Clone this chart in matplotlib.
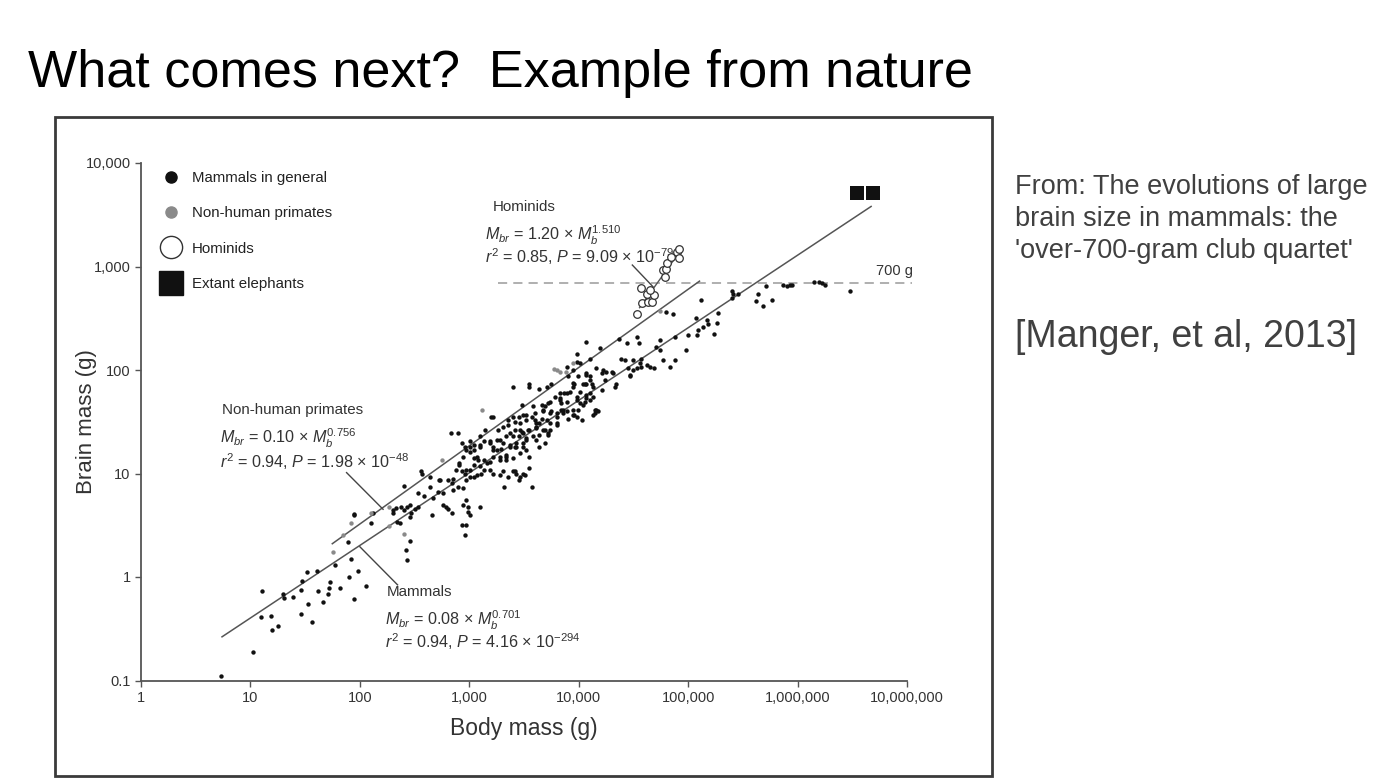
import numpy as np
import matplotlib
matplotlib.use("Agg")
import matplotlib.pyplot as plt
from matplotlib.lines import Line2D
from matplotlib.patches import Rectangle
from matplotlib.ticker import FuncFormatter, FixedLocator, NullLocator

plt.rcParams["font.family"] = ["Liberation Sans", "DejaVu Sans"]
plt.rcParams["mathtext.fontset"] = "custom"
plt.rcParams["mathtext.rm"] = "Liberation Sans"
plt.rcParams["mathtext.it"] = "Liberation Sans:italic"

# values, stored as log10(grams)
mammal_log_body = [
    0.73, 1.02, 1.10, 1.19, 1.20, 1.25, 1.11, 1.30, 1.31, 1.39, 1.46, 1.47, 1.46, 1.52, 1.53,
    1.56, 1.61, 1.62, 1.66, 1.71, 1.72, 1.73, 1.77, 1.82, 1.90, 1.92, 1.98, 1.95, 2.06, 1.89,
    1.95, 2.30, 2.30, 2.34, 2.12, 2.10, 2.43, 2.42, 2.46, 2.33, 2.40, 2.47, 2.50, 2.46, 2.57,
    2.64, 2.66, 2.73, 2.79, 2.84, 2.83, 2.90, 2.93, 2.96, 2.97, 3.01, 2.94, 2.99, 3.10, 2.81,
    2.88, 2.91, 2.97, 2.97, 2.85, 2.76, 2.67, 2.59, 2.71, 2.53, 2.93, 2.97, 3.04, 3.10, 3.22,
    3.28, 3.32, 3.43, 3.45, 3.51, 3.57, 3.55, 3.28, 3.19, 3.16, 3.08, 3.22, 3.34, 3.42, 3.37,
    3.46, 3.52, 3.42, 3.49, 3.58, 3.67, 3.74, 3.61, 3.80, 3.83, 3.89, 3.95, 4.01, 4.03, 4.10,
    4.15, 4.07, 3.40, 3.55, 3.71, 4.07, 3.98, 4.19, 4.01, 4.07, 4.22, 4.24, 4.10, 4.06, 3.96,
    3.92, 4.01, 4.07, 4.16, 3.99, 3.95, 3.89, 3.83, 3.89, 3.84, 3.78, 3.74, 3.69, 3.74, 3.71,
    3.80, 3.66, 3.60, 3.61, 3.67, 3.72, 3.55, 3.64, 3.75, 3.20, 3.48, 3.40, 3.35, 3.31, 3.46,
    3.52, 3.55, 3.49, 3.40, 3.43, 3.49, 3.52, 3.46, 3.37, 3.31, 3.25, 3.19, 3.22, 3.28, 3.34,
    3.19, 3.13, 3.22, 3.40, 3.49, 3.07, 3.04, 3.10, 3.14, 3.26, 3.61, 3.64, 3.69, 3.01, 3.13,
    2.91, 2.93, 3.04, 3.10, 2.56, 2.72, 2.85, 2.84, 2.90, 2.94, 3.01, 3.07, 3.11, 2.40, 2.53,
    2.76, 2.81, 2.97, 2.99, 2.38, 2.43, 2.46, 2.37, 1.95, 2.64, 5.12, 4.80, 4.86, 4.37, 4.53,
    4.44, 4.55, 4.10, 3.95, 3.89, 4.31, 4.39, 4.42, 4.50, 4.57, 4.56, 4.53, 4.47, 4.45, 4.65,
    4.69, 4.71, 4.74, 4.77, 4.83, 4.88, 4.88, 5.00, 4.98, 5.08, 5.09, 5.07, 5.17, 5.18, 5.24,
    5.26, 5.27, 5.14, 4.33, 4.13, 4.10, 3.98, 4.06, 4.13, 3.96, 4.13, 3.86, 3.90, 5.40, 5.40,
    5.41, 5.46, 5.64, 5.62, 5.68, 5.77, 5.71, 5.87, 5.90, 5.93, 5.95, 6.15, 6.20, 6.22, 6.25,
    6.48, 4.74,
    # dense core, second pass
    3.66, 3.72, 3.67, 3.75, 3.80, 3.87, 3.84, 3.45, 3.52, 3.57, 3.60, 3.64, 3.74, 3.80, 3.35,
    3.42, 3.48, 3.54, 3.61, 3.69, 3.72, 3.34, 3.45, 3.52, 3.58, 3.64, 3.19, 3.22, 3.25, 3.29,
    3.37, 3.43, 3.49, 3.34, 3.40, 3.28, 3.10, 3.01, 2.96, 3.01, 2.94, 3.04, 3.13, 3.01, 2.96,
    3.04, 3.31, 3.42, 3.46, 3.55, 3.35,
    3.98, 4.07, 4.12, 3.99, 3.95, 4.04, 3.83, 3.98, 4.07, 4.10, 4.04, 3.95, 3.86, 3.98, 3.90,
    4.15, 4.18, 4.21, 4.25, 4.21, 4.34, 4.30, 4.47, 4.50, 4.57, 4.62, 4.16,
]
mammal_log_brain = [
    -0.96, -0.72, -0.39, -0.38, -0.51, -0.47, -0.14, -0.16, -0.20, -0.19, -0.13, -0.04, -0.36, 0.05, -0.26,
    -0.43, 0.06, -0.14, -0.24, -0.16, -0.11, -0.05, 0.12, -0.11, 0.00, 0.17, 0.06, -0.21, -0.09, 0.34,
    0.61, 0.65, 0.62, 0.53, 0.62, 0.52, 0.16, 0.26, 0.35, 0.67, 0.65, 0.62, 0.66, 0.70, 1.00,
    0.97, 0.60, 0.94, 0.68, 0.62, 1.39, 1.39, 0.50, 0.41, 0.50, 0.60, 0.70, 0.68, 0.68, 0.94,
    1.03, 1.08, 1.03, 0.94, 0.84, 0.81, 0.76, 0.78, 0.82, 0.68, 1.29, 1.23, 1.23, 1.26, 1.55,
    1.32, 0.87, 1.00, 0.94, 0.99, 0.87, 1.16, 0.99, 1.03, 1.10, 1.13, 1.16, 1.16, 1.26, 1.39,
    1.42, 1.32, 1.50, 1.57, 1.65, 1.61, 1.42, 1.49, 1.55, 1.71, 1.78, 1.84, 1.68, 1.52, 1.78,
    1.58, 1.86, 1.84, 1.84, 1.84, 2.27, 2.15, 2.21, 2.07, 1.97, 2.00, 1.90, 1.90, 1.86, 1.86,
    1.79, 1.79, 1.73, 1.61, 1.61, 1.57, 1.69, 1.78, 1.60, 1.61, 1.74, 1.69, 1.65, 1.58, 1.52,
    1.47, 1.53, 1.58, 1.45, 1.42, 1.37, 1.86, 1.82, 1.86, 1.55, 1.66, 1.55, 1.52, 1.45, 1.49,
    1.52, 1.42, 1.39, 1.36, 1.29, 1.26, 1.23, 1.20, 1.26, 1.29, 1.32, 1.29, 1.23, 1.16, 1.13,
    1.11, 1.03, 1.00, 1.02, 1.00, 1.16, 1.28, 1.36, 1.42, 1.42, 1.32, 1.26, 1.29, 1.26, 1.31,
    1.10, 1.02, 1.08, 1.07, 1.02, 0.94, 0.95, 0.91, 0.87, 0.86, 0.97, 0.99, 1.00, 0.88, 0.81,
    0.70, 0.66, 0.74, 0.63, 0.68, 0.68, 0.58, 0.52, 0.60, 0.87, 2.68, 2.56, 2.54, 2.30, 2.32,
    2.26, 2.26, 2.11, 2.00, 2.03, 1.97, 2.11, 2.10, 2.10, 2.11, 2.07, 2.02, 1.95, 2.02, 2.03,
    2.02, 2.22, 2.19, 2.10, 2.03, 2.10, 2.32, 2.34, 2.19, 2.34, 2.39, 2.50, 2.48, 2.44, 2.35,
    2.45, 2.55, 2.42, 1.84, 1.84, 1.94, 1.71, 1.69, 1.74, 1.57, 1.57, 1.58, 1.94, 2.76, 2.70,
    2.73, 2.73, 2.73, 2.67, 2.62, 2.68, 2.81, 2.82, 2.81, 2.82, 2.82, 2.85, 2.85, 2.84, 2.82,
    2.76, 2.29,
    1.66, 1.68, 1.60, 1.60, 1.58, 1.78, 1.68, 1.55, 1.57, 1.55, 1.52, 1.49, 1.49, 1.49, 1.47,
    1.42, 1.40, 1.42, 1.44, 1.42, 1.39, 1.36, 1.36, 1.34, 1.36, 1.37, 1.31, 1.26, 1.23, 1.24,
    1.28, 1.26, 1.29, 1.18, 1.15, 1.13, 1.28, 1.31, 1.26, 1.21, 1.16, 1.15, 1.13, 1.03, 1.00,
    0.97, 1.02, 1.02, 0.97, 1.05, 0.97,
    2.08, 1.95, 1.86, 1.94, 1.87, 1.86, 1.73, 1.74, 1.76, 1.71, 1.66, 1.61, 1.61, 1.55, 1.53,
    1.61, 1.60, 1.81, 1.98, 1.97, 1.86, 1.98, 1.94, 2.00, 2.03, 2.05, 2.02,
]

primate_log_body = [1.75, 1.85, 1.92, 2.10, 2.27, 2.27, 2.40, 2.75, 3.12, 3.77, 3.80, 3.83, 3.88, 3.95, 4.74]
primate_log_brain = [0.24, 0.41, 0.52, 0.62, 0.68, 0.49, 0.42, 1.13, 1.61, 2.01, 2.00, 1.98, 1.98, 2.07, 2.57]

hominid_log_body = [4.53, 4.57, 4.58, 4.62, 4.63, 4.67, 4.69, 4.65, 4.77, 4.79, 4.80, 4.81, 4.84, 4.90, 4.92, 4.92]
hominid_log_brain = [2.54, 2.79, 2.65, 2.73, 2.66, 2.66, 2.72, 2.77, 2.97, 2.90, 2.98, 3.03, 3.09, 3.14, 3.17, 3.08]

elephant_log_body = [6.54, 6.69]
elephant_log_brain = [3.71, 3.71]

# regression fits printed on the chart (coefficient, exponent, body range in g)
mammal_fit = (0.08, 0.701, 5.5, 4.7e6)
primate_fit = (0.10, 0.756, 56.0, 1.27e5)
hominid_fit_body = [3.6e4, 8.0e4]
hominid_fit_brain = [400.0, 1300.0]
club_threshold = 700.0

x_ticks = [1, 10, 100, 1e3, 1e4, 1e5, 1e6, 1e7]
y_ticks = [0.1, 1, 10, 100, 1e3, 1e4]


def pw(log_vals):
    return 10 ** np.asarray(log_vals)


fig = plt.figure(figsize=(14, 7.83), dpi=100)
fig.patch.set_facecolor("white")

fig.text(28 / 1400, 1 - 87 / 783, "What comes next?  Example from nature",
         fontsize=37.5, color="black", ha="left", va="baseline")

side = ["From: The evolutions of large", "brain size in mammals: the", "'over-700-gram club quartet'"]
for i, line in enumerate(side):
    fig.text(1015 / 1400, 1 - (194 + 32 * i) / 783, line, fontsize=19.5,
             color="#404040", ha="left", va="baseline")
fig.text(1015 / 1400, 1 - 347 / 783, "[Manger, et al, 2013]", fontsize=27,
         color="#404040", ha="left", va="baseline")

fig.patches.append(Rectangle((55 / 1400, 7 / 783), 937 / 1400, 659 / 783,
                             transform=fig.transFigure, fill=False,
                             edgecolor="#3a3a3a", linewidth=2))

ax = fig.add_axes([141 / 1400, 1 - 680.5 / 783, 766 / 1400, 517.5 / 783])
ax.set_xscale("log")
ax.set_yscale("log")
ax.set_xlim(1, 1e7)
ax.set_ylim(0.1, 1e4)

# fit lines
for coef, expo, lo, hi in (mammal_fit, primate_fit):
    mb = np.geomspace(lo, hi, 50)
    ax.plot(mb, coef * mb ** expo, color="#555555", lw=1.1, zorder=2)
ax.plot(hominid_fit_body, hominid_fit_brain, color="#555555", lw=1.0, zorder=2)

ax.plot([10 ** 3.26, 10 ** 7.05], [club_threshold, club_threshold], ls=(0, (6, 4)),
        color="#9a9a9a", lw=1.1, clip_on=False, zorder=1)
ax.text(10 ** 6.89, 905, "700 g", fontsize=10.5, color="#333333", ha="center", va="center")

ax.scatter(pw(mammal_log_body), pw(mammal_log_brain), s=10, color="#111111", lw=0, zorder=3)
ax.scatter(pw(primate_log_body), pw(primate_log_brain), s=10, color="#8a8a8a", lw=0, zorder=3)
ax.scatter(pw(hominid_log_body), pw(hominid_log_brain), s=30, facecolor="white",
           edgecolor="#333333", lw=0.9, zorder=4)
ax.scatter(pw(elephant_log_body), pw(elephant_log_brain), s=95, marker="s",
           color="#111111", lw=0, zorder=4)

# leader lines from labels to fits
leaders = [((75.6, 10.2), (163, 4.51)), ((100, 1.96), (221, 0.84)), ((30900, 1033), (47700, 638))]
for (x0, y0), (x1, y1) in leaders:
    ax.plot([x0, x1], [y0, y1], color="#444444", lw=1.0, zorder=2)

tfs = 11.6
lfs = 10.9
ax.text(1640, 3758, "Hominids", fontsize=lfs, color="#333333", va="center")
ax.text(1386, 2015, r"$M_{br}$ = 1.20 × $M_b^{\mathit{1.510}}$", fontsize=tfs, color="#333333", va="center")
ax.text(1386, 1236, r"$r^2$ = 0.85, $P$ = 9.09 × 10$^{-79}$", fontsize=tfs, color="#333333", va="center")

ax.text(5.5, 41.1, "Non-human primates", fontsize=lfs, color="#333333", va="center")
ax.text(5.3, 22.0, r"$M_{br}$ = 0.10 × $M_b^{\mathit{0.756}}$", fontsize=tfs, color="#333333", va="center")
ax.text(5.3, 12.9, r"$r^2$ = 0.94, $P$ = 1.98 × 10$^{-48}$", fontsize=tfs, color="#333333", va="center")

ax.text(176, 0.716, "Mammals", fontsize=lfs, color="#333333", va="center")
ax.text(169, 0.384, r"$M_{br}$ = 0.08 × $M_b^{\mathit{0.701}}$", fontsize=tfs, color="#333333", va="center")
ax.text(169, 0.235, r"$r^2$ = 0.94, $P$ = 4.16 × 10$^{-294}$", fontsize=tfs, color="#333333", va="center")

handles = [
    Line2D([], [], ls="none", marker="o", ms=8, color="#111111"),
    Line2D([], [], ls="none", marker="o", ms=8, color="#8a8a8a"),
    Line2D([], [], ls="none", marker="o", ms=16, mfc="white", mec="#333333", mew=1.0),
    Line2D([], [], ls="none", marker="s", ms=17, color="#111111"),
]
labels = ["Mammals in general", "Non-human primates", "Hominids", "Extant elephants"]
ax.legend(handles, labels, loc="upper left", bbox_to_anchor=(0.024, 0.985), frameon=False,
          fontsize=10.8, labelspacing=1.43, handlelength=1.6, handletextpad=0.55,
          borderpad=0, borderaxespad=0, labelcolor="#222222")

ax.xaxis.set_major_locator(FixedLocator(x_ticks))
ax.yaxis.set_major_locator(FixedLocator(y_ticks))
ax.xaxis.set_minor_locator(NullLocator())
ax.yaxis.set_minor_locator(NullLocator())
fmt = FuncFormatter(lambda v, p: f"{v:,.0f}" if v >= 1 else f"{v:g}")
ax.xaxis.set_major_formatter(fmt)
ax.yaxis.set_major_formatter(fmt)
ax.tick_params(direction="out", length=4, width=1, color="#555555", labelcolor="#333333", labelsize=10.5)

for s in ("top", "right"):
    ax.spines[s].set_visible(False)
for s in ("left", "bottom"):
    ax.spines[s].set_color("#555555")
    ax.spines[s].set_linewidth(1.3)

ax.set_xlabel("Body mass (g)", fontsize=16.5, color="#333333", labelpad=9)
ax.set_ylabel("Brain mass (g)", fontsize=16, color="#333333", labelpad=-8)
ax.patch.set_alpha(0)

fig.savefig("out.png", dpi=100, facecolor="white")
